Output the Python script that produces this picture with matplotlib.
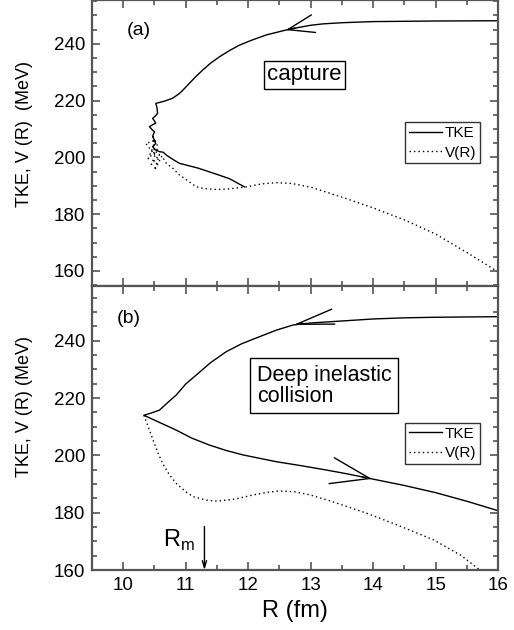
import numpy as np
import matplotlib
matplotlib.use('Agg')
import matplotlib.pyplot as plt
from matplotlib.ticker import MultipleLocator

plt.rcParams['font.family'] = ['Liberation Sans', 'DejaVu Sans']

# ---- dados do painel (a): captura ----
r_tke_a = [16.0, 15.0, 14.5, 14.0, 13.5, 13.2, 13.0, 12.8, 12.6, 12.29, 12.05, 11.86, 11.7,
           11.54, 11.4, 11.27, 11.16, 11.06, 10.97, 10.9, 10.79, 10.7, 10.63, 10.52,
           10.54, 10.55, 10.51, 10.47, 10.5, 10.52, 10.47, 10.42, 10.46, 10.5, 10.48, 10.47,
           10.5, 10.52, 10.49, 10.47, 10.52, 10.58, 10.64, 10.69, 10.8, 10.9, 11.2, 11.5,
           11.7, 11.94]
e_tke_a = [248.1, 248.0, 247.9, 247.8, 247.4, 247.0, 246.5, 245.7, 244.8, 243.1, 241.2, 239.5,
           237.6, 235.4, 233.2, 230.7, 228.4, 226.1, 224.0, 222.5, 220.8, 220.1, 219.6, 219.0,
           217.5, 215.5, 214.5, 213.7, 212.8, 212.0, 211.5, 210.8, 209.8, 209.0, 208.0, 207.3,
           206.0, 204.9, 204.2, 203.7, 202.6, 202.0, 201.8, 200.8, 199.2, 197.9, 196.2, 194.0,
           192.5, 189.6]
r_v_a = [16.0, 15.5, 15.0, 14.5, 14.0, 13.5, 13.0, 12.7, 12.45, 12.2, 11.97, 11.7, 11.49, 11.3,
         11.17, 11.05, 10.9, 10.8, 10.69,
         10.62, 10.5, 10.58, 10.45, 10.55, 10.4, 10.52, 10.36, 10.5, 10.48, 10.55]
e_v_a = [159.7, 166.5, 173.0, 178.0, 182.2, 186.0, 189.5, 190.8, 191.1, 190.6, 189.6, 188.9,
         188.7, 189.0, 189.6, 191.5, 193.8, 196.0, 197.9,
         200.5, 195.5, 201.0, 197.5, 203.0, 199.5, 206.0, 204.9, 201.0, 207.3, 204.0]

# ---- dados do painel (b): colisão profundamente inelástica ----
r_tke_b = [16.0, 15.0, 14.5, 14.0, 13.5, 13.0, 12.72, 12.45, 12.18, 11.9, 11.65, 11.4,
           11.22, 11.0, 10.85, 10.7, 10.58, 10.45, 10.33,
           10.6, 10.85, 11.1, 11.38, 11.65, 11.91, 12.2, 12.45, 12.85, 13.25, 13.6, 13.98,
           14.5, 15.0, 15.5, 16.0]
e_tke_b = [248.4, 248.2, 248.0, 247.6, 246.9, 246.2, 245.5, 243.7, 241.4, 239.0, 236.2, 232.4,
           229.0, 224.9, 221.1, 218.2, 215.8, 214.8, 214.0,
           211.3, 208.8, 206.0, 203.6, 201.7, 200.2, 198.9, 197.8, 196.4, 194.9, 193.5, 191.8,
           189.5, 187.0, 184.0, 180.7]
r_v_b = [10.33, 10.4, 10.47, 10.55, 10.63, 10.74, 10.85, 11.0, 11.12, 11.33, 11.5, 11.8,
         12.08, 12.3, 12.5, 12.75, 12.99, 13.3, 13.6, 13.9, 14.4, 14.97, 15.4, 15.71, 16.0]
e_v_b = [214.0, 210.0, 205.8, 201.2, 197.2, 193.2, 190.2, 187.3, 185.6, 184.4, 184.0, 184.8,
         186.2, 187.1, 187.6, 187.3, 186.2, 184.2, 182.0, 179.8, 175.6, 170.5, 165.2, 160.0,
         156.5]

# setas ao longo das trajetórias: R da ponta, sentido, comprimento e meia-largura
setas_a = [(12.6, 'left', 1.9, 0.65)]
setas_b = [(12.72, 'left', 2.7, 0.55), (13.98, 'right', 2.8, 0.95)]
r_m = 11.3

fig = plt.figure(figsize=(5.14, 6.3), dpi=100)
ax_a = fig.add_axes([0.179, 0.546, 0.79, 0.454])
ax_b = fig.add_axes([0.179, 0.0952, 0.79, 0.4508])

cor_eixo = '#555555'


def seta(ax, r, e, r_tip, sentido, hl, hw):
    r = np.array(r)
    e = np.array(e)
    # ramo de ida (R diminui) até o mínimo de R, depois ramo de volta
    i_min = int(np.argmin(r))
    cand = np.arange(len(r))
    cand = cand[cand > i_min] if sentido == 'right' else cand[cand < i_min]
    idx = cand[np.argmin(np.abs(r[cand] - r_tip))]
    slope = (e[idx + 1] - e[idx - 1]) / (r[idx + 1] - r[idx - 1])
    tip = (r[idx], e[idx])
    dx = -0.15 if sentido == 'right' else 0.15
    back = (r[idx] + dx, e[idx] + dx * slope)
    ax.annotate('', xy=tip, xytext=back,
                arrowprops=dict(arrowstyle=f'->,head_length={hl},head_width={hw}',
                                lw=1.0, color='black', shrinkA=0, shrinkB=0,
                                mutation_scale=10))


def estilo(ax, ylim):
    ax.set_xlim(9.5, 16)
    ax.set_ylim(*ylim)
    ax.xaxis.set_major_locator(MultipleLocator(1))
    ax.xaxis.set_minor_locator(MultipleLocator(0.5))
    ax.yaxis.set_major_locator(MultipleLocator(20))
    ax.yaxis.set_minor_locator(MultipleLocator(5))
    ax.tick_params(which='both', direction='in', top=True, right=True, color=cor_eixo,
                   width=1.2, labelsize=13.5, pad=5)
    ax.tick_params(which='major', length=6)
    ax.tick_params(which='minor', length=3.5)
    for s in ax.spines.values():
        s.set_color(cor_eixo)
        s.set_linewidth(1.6)


def legenda(ax, y):
    leg = ax.legend(loc='upper right', bbox_to_anchor=(0.955, y), fontsize=11,
                    frameon=True, fancybox=False, edgecolor='black', handlelength=2.2,
                    handletextpad=0.15, borderpad=0.25, labelspacing=0.35, borderaxespad=0)
    leg.get_frame().set_linewidth(1.0)


# painel (a)
ax_a.plot(r_tke_a, e_tke_a, color='black', lw=1.0, label='TKE')
ax_a.plot(r_v_a, e_v_a, color='black', lw=1.0, ls=(0, (1, 2.2)), label='V(R)')
for rt, sd, hl, hw in setas_a:
    seta(ax_a, r_tke_a, e_tke_a, rt, sd, hl, hw)
estilo(ax_a, (154.7, 255.4))
ax_a.tick_params(labelbottom=False)
ax_a.text(10.05, 244.8, '(a)', fontsize=14, va='center')
ax_a.text(12.9, 229, 'capture', fontsize=16, ha='center', va='center',
          bbox=dict(boxstyle='square,pad=0.15', fc='white', ec='black', lw=1.0))
legenda(ax_a, 0.572)
ax_a.set_ylabel('TKE, V (R)  (MeV)', fontsize=13)
ax_a.yaxis.set_label_coords(-0.145, 0.53)

# painel (b)
ax_b.plot(r_tke_b, e_tke_b, color='black', lw=1.0, label='TKE')
ax_b.plot(r_v_b, e_v_b, color='black', lw=1.0, ls=(0, (1, 2.2)), label='V(R)')
for rt, sd, hl, hw in setas_b:
    seta(ax_b, r_tke_b, e_tke_b, rt, sd, hl, hw)
estilo(ax_b, (160, 259.1))
ax_b.text(9.89, 247.9, '(b)', fontsize=14, va='center')
ax_b.text(12.14, 224.3, 'Deep inelastic\ncollision', fontsize=15.5, ha='left', va='center',
          linespacing=1.0,
          bbox=dict(boxstyle='square,pad=0.3', fc='white', ec='black', lw=1.0))
legenda(ax_b, 0.518)
ax_b.annotate('', xy=(r_m, 160), xytext=(r_m, 175.2),
              arrowprops=dict(arrowstyle='->,head_length=0.5,head_width=0.15', lw=1.0,
                              color='black', shrinkA=0, shrinkB=0))
ax_b.text(10.63, 170.5, r'R$_{\mathregular{m}}$', fontsize=17, va='center')
ax_b.set_xlabel('R (fm)', fontsize=17, labelpad=4)
ax_b.set_ylabel('TKE, V (R) (MeV)', fontsize=13)
ax_b.yaxis.set_label_coords(-0.145, 0.575)

fig.savefig('out.png', dpi=100)
